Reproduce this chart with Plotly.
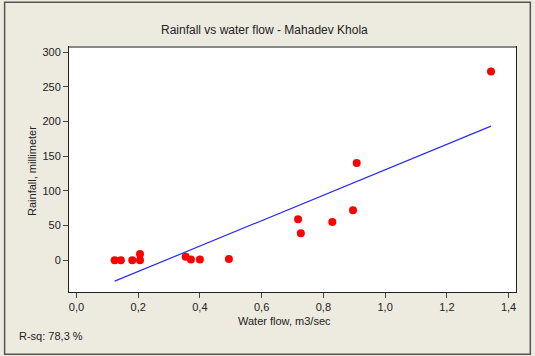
import numpy as np
import plotly.graph_objects as go

water_flow = [0.124, 0.144, 0.181, 0.206, 0.206, 0.354, 0.371, 0.400, 0.494,
              0.718, 0.727, 0.829, 0.896, 0.908, 1.343]
rainfall = [0, 0, 0, 9, 0, 5, 1, 1, 2, 59, 39, 55, 72, 140, 272]
x_ticks = [0.0, 0.2, 0.4, 0.6, 0.8, 1.0, 1.2, 1.4]
y_ticks = [0, 50, 100, 150, 200, 250, 300]
rsq_text = "R-sq: 78,3 %"

slope, intercept = np.polyfit(water_flow, rainfall, 1)
fit_x = [min(water_flow), max(water_flow)]
fit_y = [intercept + slope * v for v in fit_x]

W, H = 535, 356
L, R, T, B = 69.3, 515.7, 46.7, 291.7
pw, ph = R - L, B - T

def px(xp):
    return (xp - L) / pw

def py(yp):
    return (B - yp) / ph

font = "Liberation Sans"
txt = "#222222"

fig = go.Figure()
fig.add_trace(go.Scatter(x=fit_x, y=fit_y, mode="lines",
                         line=dict(color="#2B2BF5", width=1.2), hoverinfo="skip"))
fig.add_trace(go.Scatter(x=water_flow, y=rainfall, mode="markers",
                         marker=dict(color="#FF0000", size=8, line=dict(width=0))))

fig.update_layout(
    width=W, height=H,
    margin=dict(l=L, r=W - R, t=T, b=H - B),
    paper_bgcolor="#EDEAE0", plot_bgcolor="#FFFFFF",
    showlegend=False, separators=", ",
    font=dict(family=font, size=11, color=txt),
)
fig.update_xaxes(range=[-0.024, 1.424], tickvals=x_ticks, tickformat=".1f",
                 showgrid=False, zeroline=False, showline=True, linecolor="#222",
                 mirror=True, ticks="outside", ticklen=5, tickcolor="#444",
                 tickfont=dict(size=11, color=txt))
fig.update_yaxes(range=[-45.7, 307.2], tickvals=y_ticks,
                 showgrid=False, zeroline=False, showline=True, linecolor="#222",
                 mirror=True, ticks="outside", ticklen=5, tickcolor="#444",
                 tickfont=dict(size=11, color=txt))

ann = [
    dict(text="Rainfall vs water flow - Mahadev Khola", x=px(265), y=py(30),
         font=dict(size=12, color=txt)),
    dict(text="Water flow, m3/sec", x=px(285), y=py(321), font=dict(size=11, color=txt)),
    dict(text="Rainfall, millimeter", x=px(33), y=py(171), textangle=-90,
         font=dict(size=11, color=txt)),
    dict(text=rsq_text, x=px(17), y=py(336), xanchor="left",
         font=dict(size=11, color=txt)),
]
for a in ann:
    a.setdefault("xanchor", "center")
    fig.add_annotation(xref="paper", yref="paper", yanchor="middle",
                       showarrow=False, **a)

fig.add_shape(type="rect", xref="paper", yref="paper",
              x0=px(5), x1=px(530), y0=py(354), y1=py(2),
              line=dict(color="#555555", width=1.5), layer="below")
fig.add_shape(type="line", xref="paper", yref="paper",
              x0=0, x1=1, y0=1, y1=1, line=dict(color="#888888", width=2))

fig.write_html("out.html")
